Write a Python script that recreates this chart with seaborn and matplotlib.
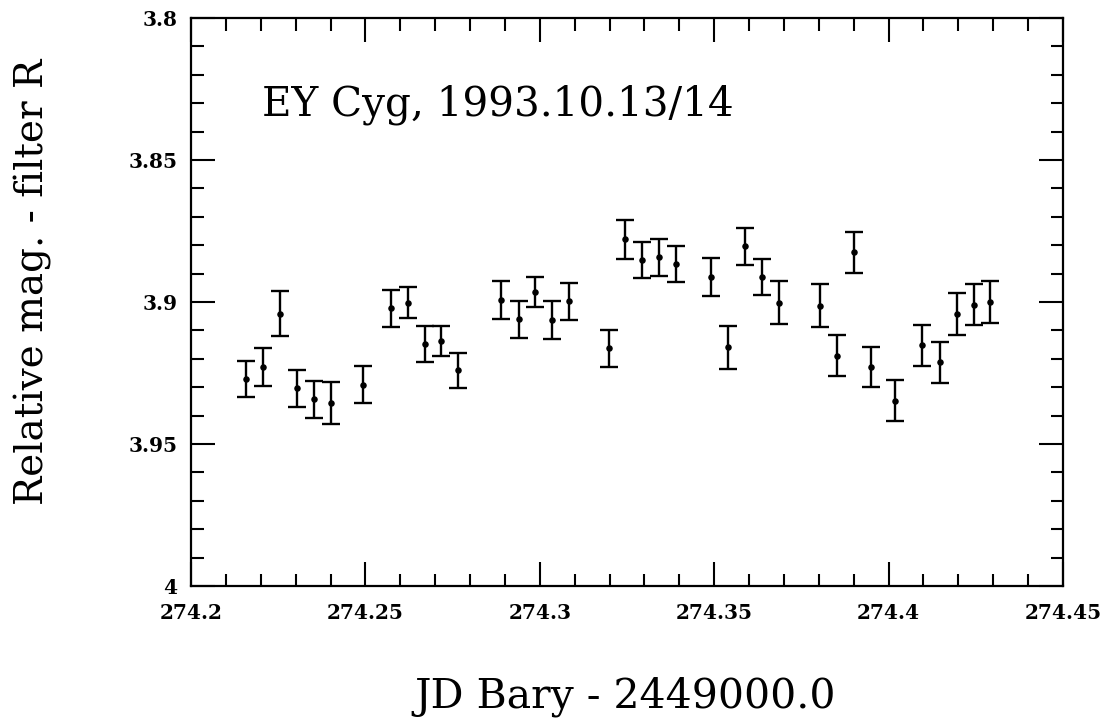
import numpy as np
import pandas as pd
import seaborn as sns
import matplotlib
matplotlib.use('Agg')
import matplotlib.pyplot as plt
from matplotlib.ticker import MultipleLocator, FuncFormatter

# JD Bary - 2449000.0
jd = [274.2157, 274.2207, 274.2254, 274.2304, 274.2353, 274.2402, 274.2492,
      274.2572, 274.2621, 274.2670, 274.2718, 274.2766, 274.2890, 274.2939,
      274.2987, 274.3035, 274.3084, 274.3197, 274.3245, 274.3294, 274.3341,
      274.3390, 274.3492, 274.3541, 274.3589, 274.3638, 274.3687, 274.3804,
      274.3853, 274.3901, 274.3950, 274.4018, 274.4097, 274.4146, 274.4195,
      274.4244, 274.4291]
mag = [3.9271, 3.9229, 3.9041, 3.9304, 3.9343, 3.9357, 3.9291,
       3.9022, 3.9002, 3.9148, 3.9136, 3.9241, 3.8993, 3.9060,
       3.8964, 3.9063, 3.8998, 3.9163, 3.8779, 3.8852, 3.8842,
       3.8866, 3.8912, 3.9160, 3.8804, 3.8912, 3.9002, 3.9013,
       3.9189, 3.8825, 3.9229, 3.9347, 3.9153, 3.9212, 3.9042,
       3.9009, 3.9000]
err = [0.0065, 0.0066, 0.0080, 0.0065, 0.0066, 0.0074, 0.0065,
       0.0066, 0.0056, 0.0064, 0.0053, 0.0063, 0.0066, 0.0065,
       0.0053, 0.0066, 0.0066, 0.0066, 0.0068, 0.0065, 0.0065,
       0.0065, 0.0066, 0.0075, 0.0065, 0.0065, 0.0075, 0.0075,
       0.0072, 0.0072, 0.0072, 0.0072, 0.0073, 0.0072, 0.0073,
       0.0073, 0.0073]

df = pd.DataFrame({"jd": jd, "mag": mag, "err": err})

sns.set_style("ticks")
plt.rcParams['font.family'] = ['DejaVu Serif']
plt.rcParams['text.color'] = 'black'
plt.rcParams['xtick.labelcolor'] = 'black'
plt.rcParams['ytick.labelcolor'] = 'black'

fig = plt.figure(figsize=(11.06, 7.24), dpi=100)
ax = fig.add_axes([0.1727, 0.1906, 0.9611 - 0.1727, 0.9751 - 0.1906])

ax.errorbar(df["jd"], df["mag"], yerr=df["err"], fmt="none", ecolor="black",
            elinewidth=1.7, capsize=6.2, capthick=1.7)
sns.scatterplot(data=df, x="jd", y="mag", ax=ax, color="black", s=22,
                edgecolor="black", linewidth=0, zorder=3)

ax.set_xlim(274.2, 274.45)
ax.set_ylim(4.0, 3.8)

ax.xaxis.set_major_locator(MultipleLocator(0.05))
ax.xaxis.set_minor_locator(MultipleLocator(0.01))
ax.yaxis.set_major_locator(MultipleLocator(0.05))
ax.yaxis.set_minor_locator(MultipleLocator(0.01))
fmt = FuncFormatter(lambda v, p: "%g" % round(v, 4))
ax.xaxis.set_major_formatter(fmt)
ax.yaxis.set_major_formatter(fmt)

ax.tick_params(which="both", direction="in", top=True, right=True,
               width=1.5, color="black", labelcolor="black")
ax.tick_params(which="major", length=17)
ax.tick_params(which="minor", length=9)
ax.tick_params(axis="x", which="major", pad=12, labelsize=14.5)
ax.tick_params(axis="y", which="major", pad=10, labelsize=14.5)
for lab in ax.get_xticklabels() + ax.get_yticklabels():
    lab.set_fontweight("bold")

for sp in ax.spines.values():
    sp.set_linewidth(1.6)
    sp.set_color("black")

ax.set_xlabel("")
ax.set_ylabel("")
fig.text(0.565, 0.037, "JD Bary - 2449000.0", fontsize=29.5, ha="center",
         va="center", color="black")
fig.text(0.03, 0.61, "Relative mag. - filter R", fontsize=28, rotation=90,
         ha="center", va="center", color="black")
ax.text(0.0814, 0.829, "EY Cyg, 1993.10.13/14", transform=ax.transAxes,
        fontsize=29.2, ha="left", va="baseline", color="black")

fig.savefig("out.png", dpi=100)
plt.close(fig)
